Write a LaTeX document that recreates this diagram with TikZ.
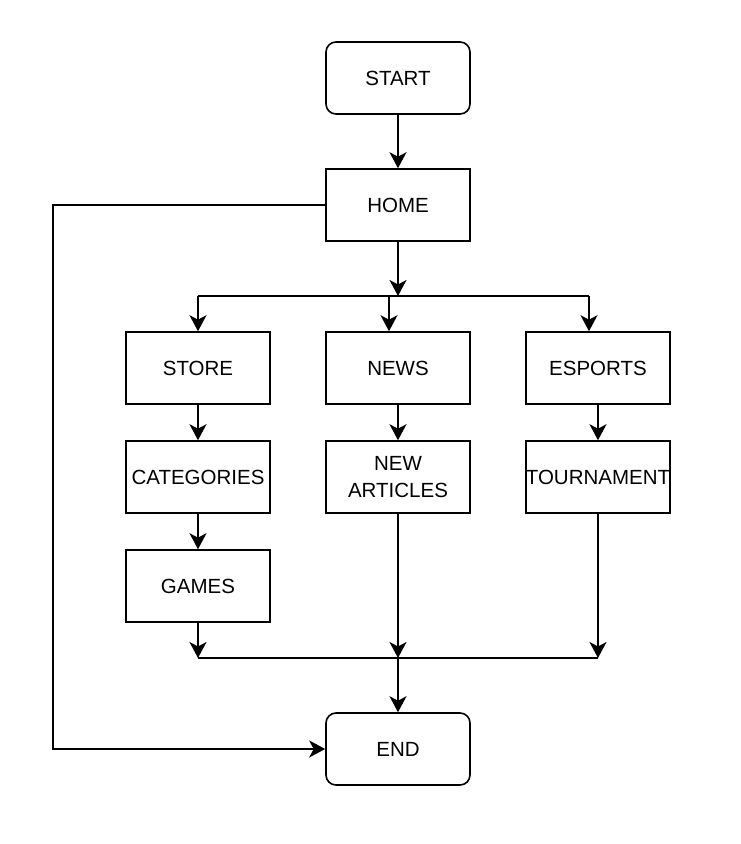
\documentclass[tikz,border=0pt]{standalone}
\usepackage{fontspec}
\setmainfont{Liberation Sans}
\usetikzlibrary{arrows.meta}
\begin{document}
\begin{tikzpicture}[x=1pt,y=-1pt,
  box/.style={draw, line width=1.6pt, minimum width=144pt, minimum height=72pt, inner sep=0pt,
    font=\fontsize{20.5}{27.4}\selectfont, align=center},
  term/.style={box, rounded corners=10pt},
  conn/.style={line width=1.8pt},
  arr/.style={conn, -{Stealth[length=16pt,width=17pt,inset=4.5pt]}}]
\useasboundingbox (0,0) rectangle (741,844);
\node[term] (start) at (398,78) {START};
\node[box] (home) at (398,205) {HOME};
\node[box] (store) at (198,368) {STORE};
\node[box] (news) at (398,368) {NEWS};
\node[box] (esports) at (598,368) {ESPORTS};
\node[box] (cat) at (198,477) {CATEGORIES};
\node[box] (arts) at (398,477) {NEW\\ARTICLES};
\node[box] (tour) at (598,477) {\makebox[0pt]{TOURNAMENT}};
\node[box] (games) at (198,586) {GAMES};
\node[term] (end) at (398,749) {END};
\coordinate (j1) at (398,296);
\coordinate (jl) at (198,296);
\coordinate (jm) at (389,296);
\coordinate (jr) at (589,296);
\coordinate (m1) at (198,658);
\coordinate (m2) at (398,658);
\coordinate (m3) at (598,658);
\coordinate (lt) at (53,205);
\coordinate (lb) at (53,749);
\draw[arr] (start) -- (home);
\draw[arr] (home) -- (j1);
\draw[conn] (jl) -- (jr);
\draw[arr] (jl) -- (store);
\draw[arr] (jm) -- (jm |- news.north);
\draw[arr] (jr) -- (jr |- esports.north);
\draw[arr] (store) -- (cat);
\draw[arr] (news) -- (arts);
\draw[arr] (esports) -- (tour);
\draw[arr] (cat) -- (games);
\draw[arr] (games) -- (m1);
\draw[arr] (arts) -- (m2);
\draw[arr] (tour) -- (m3);
\draw[conn] (m1) -- (m3);
\draw[arr] (m2) -- (end);
\draw[arr] (home.west) -- (lt) -- (lb) -- (end.west);
\end{tikzpicture}
\end{document}
